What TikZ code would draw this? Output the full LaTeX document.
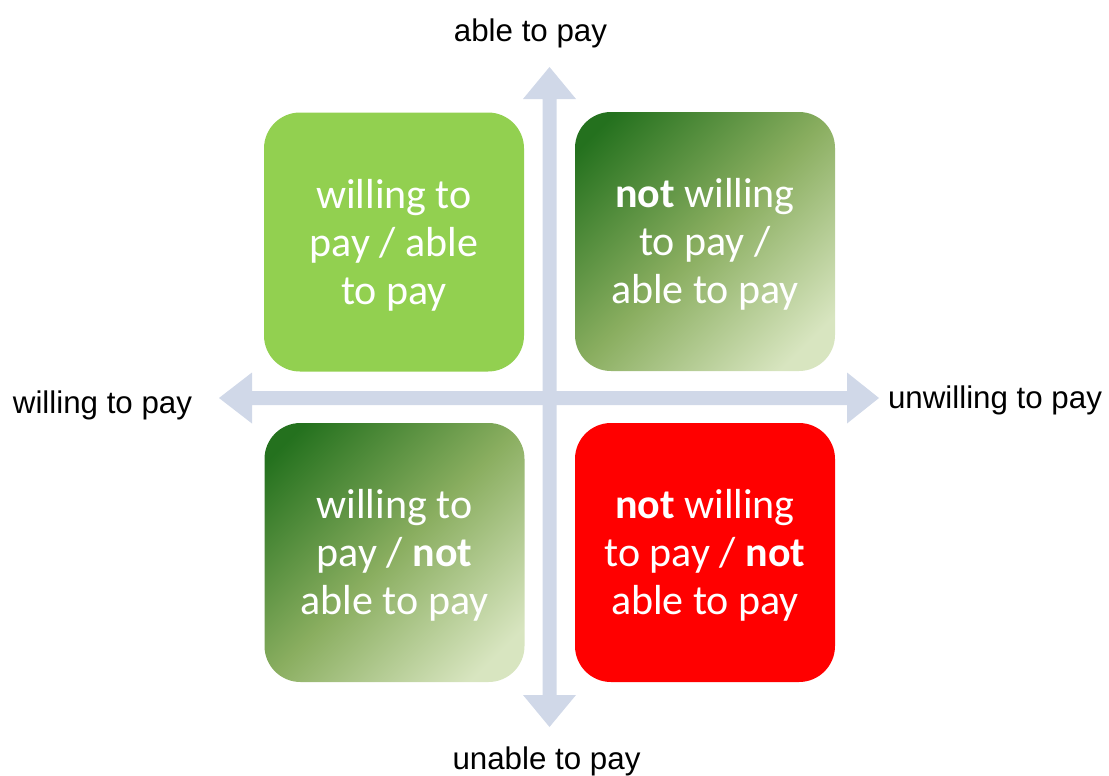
\documentclass[tikz,border=0pt]{standalone}
\usepackage{fontspec}
\setmainfont{Carlito}
\newfontfamily\arialf{Liberation Sans}
\definecolor{axisc}{RGB}{208,216,232}
\definecolor{lightgreen}{RGB}{146,208,80}
\definecolor{darkG}{RGB}{36,113,30}
\definecolor{midG}{RGB}{138,174,96}
\definecolor{lightG}{RGB}{216,229,192}
\pgfdeclareverticalshading{greenfade}{100bp}{color(0bp)=(lightG); color(22bp)=(lightG); color(50bp)=(midG); color(80bp)=(darkG); color(100bp)=(darkG)}
\tikzset{
  quad/.style={rectangle, rounded corners=18pt, minimum width=130pt, minimum height=129.5pt, inner sep=0pt},
  fadebox/.style={quad, shading=greenfade, shading angle=45},
  qtext/.style={inner sep=0pt, align=center, text=white, font=\fontsize{21}{24}\selectfont},
  axislabel/.style={anchor=base, inner sep=0pt, font=\arialf\fontsize{15.65}{18}\selectfont}
}
\begin{document}
\begin{tikzpicture}[x=0.5pt,y=-0.5pt]
\useasboundingbox (0,0) rectangle (1109,776);
% axes
\fill[axisc] (549.5,67) -- (576,99) -- (556.5,99) -- (556.5,695) -- (576,695) -- (549.5,727) -- (523,695) -- (542.5,695) -- (542.5,99) -- (523,99) -- cycle;
\fill[axisc] (219,398) -- (252,372.5) -- (252,391) -- (847,391) -- (847,372.5) -- (879,398) -- (847,423.5) -- (847,405) -- (252,405) -- (252,423.5) -- cycle;
% quadrants
\node[quad, fill=lightgreen] (tl) at (394,242) {};
\node[fadebox] (tr) at (705,241.5) {};
\node[fadebox] (bl) at (394.5,552.5) {};
\node[quad, fill=red] (br) at (705,552.5) {};
\node[qtext] (tlt) at ([yshift=-1.5pt]tl.center) {willing to\\pay / able\\to pay};
\node[qtext] (trt) at ([yshift=-1.5pt]tr.center) {\textbf{not} willing\\to pay /\\able to pay};
\node[qtext] (blt) at ([yshift=-1.5pt]bl.center) {willing to\\pay / \textbf{not}\\able to pay};
\node[qtext] (brt) at ([yshift=-1.5pt]br.center) {\textbf{not} willing\\to pay / \textbf{not}\\able to pay};
% labels
\node[axislabel] (able) at (530.5,41) {able to pay};
\node[axislabel] (unable) at (546.5,769) {unable to pay};
\node[axislabel] (willing) at (102.5,413) {willing to pay};
\node[axislabel] (unwilling) at (995,408) {unwilling to pay};
\end{tikzpicture}
\end{document}
